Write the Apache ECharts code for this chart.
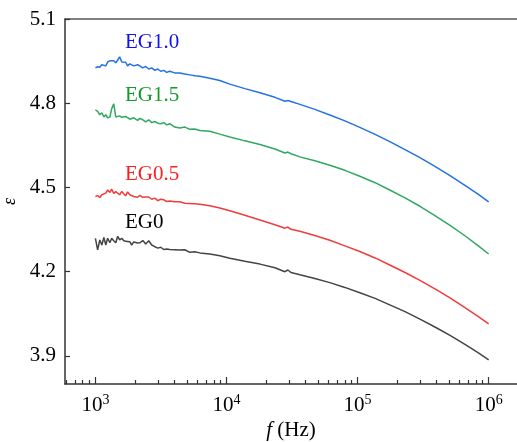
<!DOCTYPE html>
<html>
<head>
<meta charset="utf-8">
<script src="https://cdn.jsdelivr.net/npm/echarts@6/dist/echarts.min.js"></script>
<style>
html,body{margin:0;padding:0;background:#fff;}
#chart{width:517px;height:442px;}
</style>
</head>
<body>
<div id="chart"></div>
<script>
// Frequency (Hz)
const freqHz = [1000,1040,1080,1120,1160,1200,1240,1290,1330,1380,1430,1480,1530,1590,1640,1700,1760,1830,1890,1960,2030,2100,2180,2300,2420,2550,2690,2840,2990,3150,3320,3500,3690,4030,4400,4810,5250,5730,6260,7460,8890,10600,13800,18000,23400,27900,29400,31000,36300,47200,61400,80000,104000,136000,176000,230000,299000,389000,507000,659000,829000,1000000];

const eg10 = [4.926,4.930,4.928,4.937,4.944,4.933,4.947,4.951,4.944,4.951,4.944,4.954,4.965,4.947,4.940,4.946,4.933,4.940,4.947,4.933,4.926,4.937,4.933,
  4.926,4.931,4.922,4.926,4.917,4.922,4.914,4.917,4.910,4.914,
  4.908,4.908,4.904,4.901,4.898,4.896,
  4.889,4.881,4.868,4.852,4.837,4.821,4.807,4.810,4.806,
  4.796,4.778,4.758,4.737,4.714,4.689,4.663,4.635,4.606,4.575,4.542,4.507,4.476,4.449];

const eg15 = [4.776,4.771,4.759,4.766,4.751,4.759,4.748,4.751,4.780,4.798,4.751,4.744,4.755,4.750,4.744,4.753,4.746,4.743,4.748,4.748,4.743,4.739,4.746,
  4.741,4.734,4.741,4.731,4.735,4.729,4.727,4.731,4.723,4.727,
  4.715,4.712,4.715,4.707,4.708,4.703,
  4.700,4.690,4.680,4.666,4.653,4.637,4.623,4.626,4.620,
  4.609,4.595,4.579,4.561,4.540,4.517,4.491,4.463,4.433,4.400,4.365,4.328,4.293,4.263];

const eg05 = [4.468,4.471,4.464,4.474,4.468,4.480,4.491,4.482,4.494,4.479,4.485,4.491,4.474,4.486,4.491,4.470,4.484,4.474,4.480,4.468,4.475,4.465,4.472,
  4.465,4.466,4.466,4.458,4.462,4.453,4.458,4.456,4.450,4.452,
  4.449,4.449,4.444,4.443,4.442,4.440,
  4.435,4.427,4.417,4.401,4.384,4.367,4.355,4.359,4.351,
  4.344,4.329,4.312,4.292,4.272,4.249,4.224,4.197,4.169,4.139,4.107,4.072,4.041,4.014];

const eg0 = [4.319,4.278,4.313,4.295,4.322,4.295,4.319,4.303,4.319,4.310,4.303,4.326,4.313,4.319,4.311,4.308,4.302,4.307,4.295,4.306,4.310,4.302,4.303,
  4.311,4.299,4.310,4.295,4.289,4.284,4.287,4.279,4.281,4.279,
  4.278,4.277,4.278,4.269,4.271,4.267,
  4.263,4.257,4.248,4.237,4.227,4.214,4.200,4.206,4.197,
  4.189,4.176,4.161,4.144,4.125,4.105,4.082,4.058,4.031,4.003,3.973,3.941,3.912,3.886];

const seriesNames = ['EG1.0','EG1.5','EG0.5','EG0'];
const yTicks = [3.9,4.2,4.5,4.8,5.1];
const xMajorExp = [3,4,5,6];

const FONT = 'Liberation Serif';
const lgMin = 2.768, lgMax = 6.216;

const minorTicks = [];
for (let n = 2; n <= 6; n++) for (let k = 2; k <= 9; k++) {
  const v = Math.log10(k * Math.pow(10, n));
  if (v > lgMin && v < lgMax) minorTicks.push(v);
}

const lineColors = ['#2372e4','#30a860','#f03c3c','#444444'];
const textColors = ['#1010f0','#139a2a','#ff1e1e','#000000'];
const labelAt = [[1682,5.017],[1682,4.826],[1682,4.548],[1682,4.376]];
const values = [eg10, eg15, eg05, eg0];

const series = seriesNames.map((name, i) => ({
  name: name,
  type: 'line',
  xAxisIndex: 0,
  showSymbol: false,
  symbol: 'none',
  data: freqHz.map((f, j) => [f, values[i][j]]),
  lineStyle: {color: lineColors[i], width: 1.5},
  markPoint: {
    symbol: 'circle', symbolSize: 0, silent: true,
    data: [{coord: labelAt[i], value: name}],
    label: {show: true, position: 'right', distance: 0, formatter: name,
      color: textColors[i], fontFamily: FONT, fontSize: 21}
  }
}));

const chart = echarts.init(document.getElementById('chart'), null, {renderer: 'canvas'});
chart.setOption({
  animation: false,
  backgroundColor: '#fff',
  grid: {left: 65, right: 0, top: 19, bottom: 58, outerBoundsMode: 'none', containLabel: false},
  xAxis: [
    {
      type: 'log', logBase: 10, position: 'bottom',
      min: Math.pow(10, lgMin), max: Math.pow(10, lgMax),
      axisLine: {show: true, lineStyle: {color: '#333', width: 1.5}},
      axisTick: {show: false}, axisLabel: {show: false}, splitLine: {show: false}, minorTick: {show: false}
    },
    {
      type: 'value', position: 'bottom', min: lgMin, max: lgMax,
      axisLine: {show: false},
      axisTick: {show: true, inside: true, length: 7, customValues: xMajorExp, lineStyle: {color: '#333', width: 1.2}},
      axisLabel: {show: true, margin: 9, customValues: xMajorExp,
        formatter: v => '{a|10}{b|' + Math.round(v) + '}',
        rich: {
          a: {fontFamily: FONT, fontSize: 21, color: '#000', lineHeight: 24},
          b: {fontFamily: FONT, fontSize: 14, color: '#000', lineHeight: 14, verticalAlign: 'top'}
        }},
      splitLine: {show: false},
      name: '{i|f} (Hz)', nameLocation: 'middle', nameGap: 33,
      nameTextStyle: {fontFamily: FONT, fontSize: 21, color: '#000',
        rich: {i: {fontFamily: FONT, fontSize: 21, fontStyle: 'italic', color: '#000'}}}
    },
    {
      type: 'value', position: 'bottom', min: lgMin, max: lgMax,
      axisLine: {show: false},
      axisTick: {show: true, inside: true, length: 4, customValues: minorTicks, lineStyle: {color: '#333', width: 1.2}},
      axisLabel: {show: false}, splitLine: {show: false}
    },
    {
      type: 'value', position: 'top', min: lgMin, max: lgMax,
      axisLine: {show: true, lineStyle: {color: '#555', width: 1.5}},
      axisTick: {show: false}, axisLabel: {show: false}, splitLine: {show: false}
    }
  ],
  yAxis: {
    type: 'value', min: 3.8, max: 5.1,
    axisLine: {show: true, lineStyle: {color: '#333', width: 1.5}},
    axisTick: {show: true, inside: true, length: 5, customValues: yTicks, lineStyle: {color: '#333', width: 1.2}},
    axisLabel: {show: true, margin: 9, customValues: yTicks, formatter: v => v.toFixed(1),
      fontFamily: FONT, fontSize: 21, color: '#000'},
    splitLine: {show: false},
    name: 'ε', nameLocation: 'middle', nameGap: 46, nameRotate: 90,
    nameTextStyle: {fontFamily: FONT, fontSize: 18, fontStyle: 'italic', color: '#000'}
  },
  series: series
});
</script>
</body>
</html>
